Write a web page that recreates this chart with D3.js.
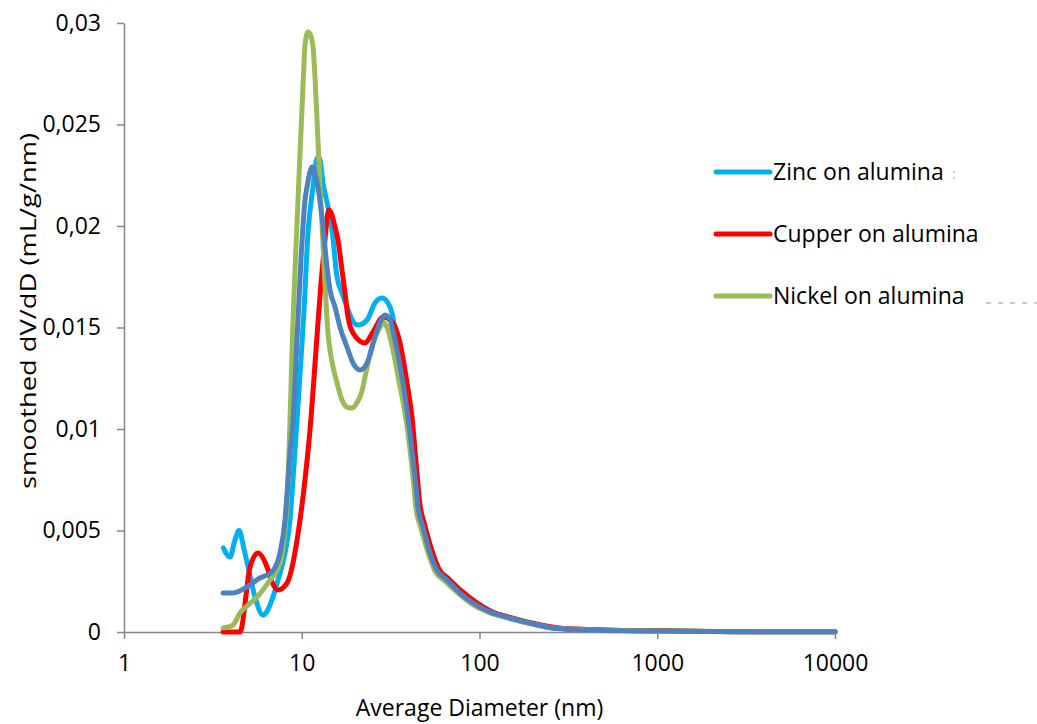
<!DOCTYPE html>
<html>
<head>
<meta charset="utf-8">
<script src="https://cdn.jsdelivr.net/npm/d3@7"></script>
<style>
  html, body { margin: 0; padding: 0; background: #fff; overflow: hidden; }
  svg { display: block; }
  text { font-family: 'Open Sans', sans-serif; fill: #000; }
  .axis path, .axis line { stroke: #868686; stroke-width: 1.5; }
</style>
</head>
<body>
<div id="chart-area"></div>
<script>
// Pore size distribution

const seriesNames = ['Zinc on alumina', 'Cupper on alumina', 'Nickel on alumina', ''];
const seriesColors = ['#00B0F0', '#FF0000', '#9BBB59', '#4F81BD'];

const xTicks = [1, 10, 100, 1000, 10000];
const yTicks = [0, 0.005, 0.01, 0.015, 0.02, 0.025, 0.03];

// Zinc on alumina
const zincD = [3.62, 3.95, 4.2, 4.44, 4.73, 4.99, 5.46, 6.05, 6.8, 7.35, 8.05, 8.59, 9.04, 9.53, 10.3, 10.84, 11.57, 12.0, 12.35, 12.67, 13.17, 14.05, 14.8, 15.79, 16.84, 17.97, 19.2, 20.73, 23.29, 25.83, 28.29, 30.57, 32.2, 33.46, 37.12, 40.64, 43.36, 45.08, 48.09, 52.67, 57.67, 65.64, 77.68, 91.92, 114.6, 148.5, 192.4, 273, 408, 625, 1010, 1856, 4000, 10000];
const zincV = [0.00414, 0.00369, 0.0045, 0.005, 0.0041, 0.0032, 0.00172, 0.00084, 0.00158, 0.00256, 0.00389, 0.00552, 0.0082, 0.01118, 0.01586, 0.01966, 0.02192, 0.0231, 0.0234, 0.02325, 0.02212, 0.02094, 0.0198, 0.01749, 0.0167, 0.01601, 0.01537, 0.01512, 0.01537, 0.01621, 0.01645, 0.01621, 0.01571, 0.01488, 0.0124, 0.0099, 0.0077, 0.0062, 0.0052, 0.0039, 0.003, 0.0025, 0.0019, 0.0014, 0.00097, 0.00068, 0.00042, 0.00018, 0.00011, 0.00007, 0.00005, 0.00003, 0.00001, 0.00001];

// Cupper on alumina
const cupperD = [3.61, 4.49, 5.12, 5.67, 6.38, 6.8, 7.35, 8.26, 9.78, 10.43, 11.13, 12.03, 12.83, 13.34, 14.23, 15.39, 15.99, 16.84, 17.51, 18.2, 19.43, 22.69, 25.18, 28.66, 32.62, 35.7, 39.09, 41.71, 44.5, 46.2, 49.1, 54.0, 59.2, 67.4, 79.8, 94.4, 117.7, 152.5, 200, 280, 420, 640, 1050, 1600, 2200, 4000, 10000];
const cupperV = [0, 0, 0.0032, 0.00389, 0.0032, 0.00246, 0.00207, 0.00241, 0.00552, 0.0075, 0.00995, 0.01389, 0.01719, 0.01882, 0.02079, 0.01995, 0.01931, 0.01783, 0.0167, 0.01552, 0.01473, 0.01424, 0.01478, 0.01552, 0.01522, 0.01424, 0.01227, 0.01059, 0.0078, 0.0063, 0.0053, 0.004, 0.0031, 0.0026, 0.002, 0.0015, 0.001, 0.0007, 0.00043, 0.0002, 0.00012, 0.00008, 0.00007, 0.00004, 0.00002, 0.00001, 0.00001];

// Nickel on alumina
const nickelD = [3.61, 4.1, 4.49, 4.99, 5.6, 6.63, 7.26, 7.77, 8.05, 8.26, 8.59, 8.93, 9.4, 9.78, 10.16, 10.43, 10.84, 11.13, 11.57, 12.19, 12.67, 13.0, 13.51, 14.05, 14.42, 15.0, 15.79, 16.84, 17.97, 19.2, 20.4, 21.9, 22.69, 23.6, 25.18, 27.6, 28.66, 30.57, 32.62, 34.9, 39.6, 42.3, 43.9, 46.9, 51.4, 56.2, 64.0, 76, 90, 112, 145, 190, 270, 400, 620, 1000, 1850, 4000, 10000];
const nickelV = [0.0002, 0.00034, 0.00094, 0.00133, 0.00172, 0.00256, 0.00305, 0.00389, 0.00502, 0.00635, 0.01044, 0.01537, 0.0201, 0.0236, 0.02685, 0.0289, 0.02956, 0.02946, 0.02882, 0.02522, 0.02192, 0.02005, 0.01719, 0.01473, 0.01389, 0.01305, 0.01227, 0.01143, 0.01108, 0.01103, 0.01128, 0.01192, 0.01256, 0.01325, 0.01424, 0.01502, 0.01527, 0.01488, 0.01389, 0.01256, 0.0098, 0.0076, 0.0061, 0.0051, 0.0039, 0.003, 0.0025, 0.0019, 0.0014, 0.00098, 0.00068, 0.00042, 0.00018, 0.00011, 0.00007, 0.00005, 0.00003, 0.00001, 0.00001];

// fourth series (no visible legend entry)
const series4D = [3.61, 4.1, 4.92, 5.82, 6.8, 7.54, 8.05, 8.37, 8.59, 8.93, 9.4, 9.9, 10.43, 10.7, 11.13, 11.42, 11.7, 12.19, 13.0, 13.87, 14.42, 15.39, 16.41, 17.97, 19.43, 21.27, 23.29, 25.83, 27.9, 29.41, 31.37, 33.46, 37.12, 40.64, 43.36, 45.08, 48.09, 52.67, 57.67, 65.64, 77.68, 91.92, 114.6, 148.5, 192.4, 273, 408, 625, 1010, 1856, 4000, 10000];
const series4V = [0.00192, 0.00192, 0.00222, 0.00266, 0.00296, 0.00389, 0.00552, 0.0075, 0.00882, 0.01044, 0.01438, 0.01833, 0.02128, 0.02192, 0.02266, 0.02291, 0.02276, 0.02217, 0.02044, 0.01798, 0.01685, 0.01601, 0.01502, 0.01404, 0.01325, 0.01291, 0.01325, 0.01453, 0.01537, 0.01562, 0.01537, 0.01438, 0.01227, 0.0098, 0.00764, 0.00616, 0.00517, 0.00389, 0.00305, 0.00256, 0.00192, 0.00143, 0.00099, 0.00069, 0.00044, 0.00017, 0.0001, 0.00006, 0.00005, 0.00003, 0.00001, 0.00001];

const width = 1037;
const height = 724;
const margin = { top: 23, right: 202, bottom: 92, left: 124 };
const innerWidth = width - margin.left - margin.right;
const innerHeight = height - margin.top - margin.bottom;

const svg = d3.select('#chart-area')
  .append('svg')
  .attr('width', width)
  .attr('height', height);

const gRoot = svg.append('g')
  .attr('transform', `translate(${margin.left}, ${margin.top})`);

// Scales
const xScale = d3.scaleLog().domain([1, 10000]).range([0, innerWidth]);
const yScale = d3.scaleLinear().domain([0, 0.03]).range([innerHeight, 0]);

// Axes
const yAxis = d3.axisLeft(yScale)
  .tickValues(yTicks)
  .tickSize(7)
  .tickSizeOuter(0)
  .tickPadding(16)
  .tickFormat((d) => String(d).replace('.', ','));
const xAxis = d3.axisBottom(xScale)
  .tickValues(xTicks)
  .tickSize(7)
  .tickSizeOuter(0)
  .tickPadding(16)
  .tickFormat((d) => d);

gRoot.append('g').attr('class', 'axis').call(yAxis);
gRoot.append('g').attr('class', 'axis')
  .attr('transform', `translate(0, ${innerHeight})`)
  .call(xAxis);
gRoot.selectAll('.axis')
  .attr('font-size', 23)
  .attr('font-family', null);
gRoot.selectAll('.axis text').attr('fill', '#000');

// Lines
const series = [
  { d: zincD, v: zincV },
  { d: cupperD, v: cupperV },
  { d: nickelD, v: nickelV },
  { d: series4D, v: series4V },
];

const line = d3.line()
  .x((p) => xScale(p[0]))
  .y((p) => yScale(p[1]))
  .curve(d3.curveMonotoneX);

series.forEach((s, i) => {
  gRoot.append('path')
    .datum(d3.zip(s.d, s.v))
    .attr('fill', 'none')
    .attr('stroke', seriesColors[i])
    .attr('stroke-width', 5)
    .attr('stroke-linejoin', 'round')
    .attr('stroke-linecap', 'round')
    .attr('d', line);
});

// Axis titles
svg.append('text')
  .attr('x', margin.left + innerWidth / 2)
  .attr('y', 716)
  .attr('text-anchor', 'middle')
  .attr('font-size', 23)
  .text('Average Diameter (nm)');

svg.append('text')
  .attr('transform', 'translate(36, 311) rotate(-90)')
  .attr('text-anchor', 'middle')
  .attr('textLength', 356)
  .attr('lengthAdjust', 'spacingAndGlyphs')
  .attr('font-size', 21)
  .text('smoothed dV/dD (mL/g/nm)');

// Legend (only three entries are visible)
const legend = svg.append('g').attr('transform', 'translate(714, 172)');
const legendRows = legend.selectAll('g')
  .data(seriesNames.slice(0, 3))
  .enter()
  .append('g')
  .attr('transform', (d, i) => `translate(0, ${i * 62})`);
legendRows.append('line')
  .attr('x1', 2).attr('x2', 56)
  .attr('stroke', (d, i) => seriesColors[i])
  .attr('stroke-width', 5)
  .attr('stroke-linecap', 'round');
legendRows.append('text')
  .attr('x', 59)
  .attr('y', 8)
  .attr('font-size', 23)
  .text((d) => d);

// clipped remains of the hidden legend entry
legend.append('text')
  .attr('x', 238).attr('y', 7)
  .attr('font-size', 14)
  .style('fill', '#bbb')
  .text(':');
legend.append('line')
  .attr('x1', 272).attr('x2', 323)
  .attr('y1', 131).attr('y2', 131)
  .attr('stroke', '#999')
  .attr('stroke-width', 1)
  .attr('stroke-dasharray', '5,7');
</script>
</body>
</html>
